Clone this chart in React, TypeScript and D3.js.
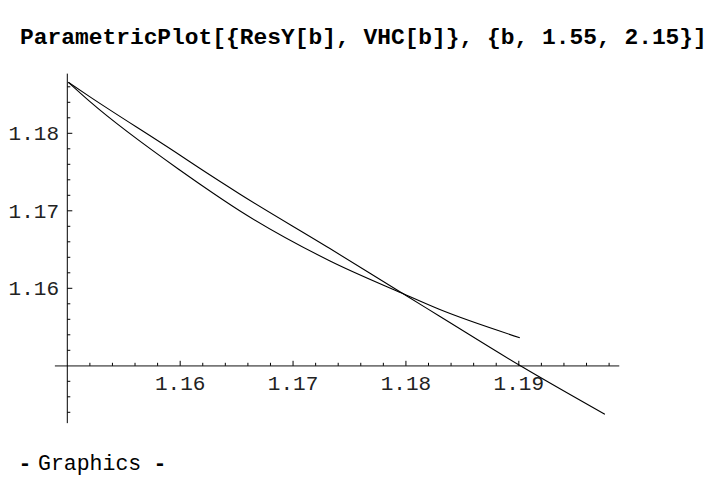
import React from "react";
import * as d3 from "d3";

const titleText = "ParametricPlot[{ResY[b], VHC[b]}, {b, 1.55, 2.15}]";
const footerWord = "Graphics";

const curveAX = [1.15009, 1.15201, 1.15996, 1.16173, 1.16527, 1.17323, 1.17968, 1.18295, 1.19018, 1.19763];
const curveAY = [1.18658, 1.1847, 1.1772, 1.17548, 1.17217, 1.16516, 1.15935, 1.15643, 1.14997, 1.14374];
const curveBX = [1.15009, 1.15201, 1.15996, 1.16173, 1.16527, 1.17323, 1.17968, 1.18295, 1.19009];
const curveBY = [1.18658, 1.18408, 1.17526, 1.17346, 1.17001, 1.16356, 1.15935, 1.15729, 1.15363];

const xMajorTicks = [1.16, 1.17, 1.18, 1.19];
const yMajorTicks = [1.16, 1.17, 1.18];

export default function App() {
  const W = 710;
  const H = 486;
  const x = d3.scaleLinear().domain([1.15, 1.19]).range([67.3, 518.8]);
  const y = d3.scaleLinear().domain([1.15, 1.18]).range([365.8, 133.3]);

  const xAxisExtent = [1.1489, 1.1989];
  const yAxisExtent = [1.1426, 1.1877];

  const xMinor = d3.range(1.152, 1.1985, 0.002).filter(
    (v) => !xMajorTicks.some((m) => Math.abs(m - v) < 1e-6)
  );
  const yMinor = d3.range(1.144, 1.1875, 0.002).filter(
    (v) => Math.abs(v - 1.15) > 1e-6 && !yMajorTicks.some((m) => Math.abs(m - v) < 1e-6)
  );

  const line = d3
    .line<[number, number]>()
    .x((d) => x(d[0]))
    .y((d) => y(d[1]))
    .curve(d3.curveMonotoneX);

  const ptsA = curveAX.map((v, i) => [v, curveAY[i]] as [number, number]);
  const ptsB = curveBX.map((v, i) => [v, curveBY[i]] as [number, number]);

  const x0 = x(1.15);
  const y0 = y(1.15);
  const mono = "'Liberation Mono', 'Courier New', monospace";

  return (
    <svg
      width={W}
      height={H}
      style={{ position: "absolute", left: 0, top: 0, background: "#fff" }}
    >
      <rect width={W} height={H} fill="#fff" />
      <text
        x={20}
        y={44}
        fontFamily={mono}
        fontWeight="bold"
        fontSize={22.9}
        fill="#000"
      >
        {titleText}
      </text>

      {/* x axis */}
      <line
        x1={x(xAxisExtent[0])}
        x2={x(xAxisExtent[1])}
        y1={y0}
        y2={y0}
        stroke="#777"
        strokeWidth={1.7}
      />
      {xMinor.map((v, i) => (
        <line key={"xm" + i} x1={x(v)} x2={x(v)} y1={y0} y2={y0 - 3} stroke="#000" strokeWidth={1} />
      ))}
      {xMajorTicks.map((v, i) => (
        <g key={"xM" + i}>
          <line x1={x(v)} x2={x(v)} y1={y0} y2={y0 - 5} stroke="#000" strokeWidth={1} />
          <text x={x(v)} y={390} textAnchor="middle" fontFamily={mono} fontSize={21} fill="#222">
            {d3.format(".2f")(v)}
          </text>
        </g>
      ))}

      {/* y axis */}
      <line
        x1={x0}
        x2={x0}
        y1={y(yAxisExtent[0])}
        y2={y(yAxisExtent[1])}
        stroke="#000"
        strokeWidth={1}
      />
      {yMinor.map((v, i) => (
        <line key={"ym" + i} x1={x0} x2={x0 + 3} y1={y(v)} y2={y(v)} stroke="#000" strokeWidth={1} />
      ))}
      {yMajorTicks.map((v, i) => (
        <g key={"yM" + i}>
          <line x1={x0} x2={x0 + 5} y1={y(v)} y2={y(v)} stroke="#000" strokeWidth={1} />
          <text x={59} y={y(v) + 7} textAnchor="end" fontFamily={mono} fontSize={21} fill="#222">
            {d3.format(".2f")(v)}
          </text>
        </g>
      ))}

      <path d={line(ptsA) || ""} fill="none" stroke="#000" strokeWidth={1.1} />
      <path d={line(ptsB) || ""} fill="none" stroke="#000" strokeWidth={1.1} />

      <text x={25} y={470} textAnchor="middle" fontFamily={mono} fontWeight="bold" fontSize={21.5} fill="#000">
        -
      </text>
      <text x={38} y={470} fontFamily={mono} fontSize={21.5} fill="#000">
        {footerWord}
      </text>
      <text x={160} y={470} textAnchor="middle" fontFamily={mono} fontWeight="bold" fontSize={21.5} fill="#000">
        -
      </text>
    </svg>
  );
}
